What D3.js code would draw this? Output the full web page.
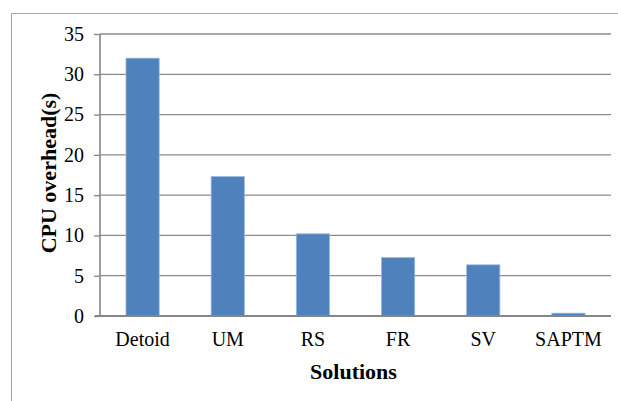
<!DOCTYPE html>
<html>
<head>
<meta charset="utf-8">
<script src="https://cdn.jsdelivr.net/npm/d3@7/dist/d3.min.js"></script>
<style>
  html, body { margin: 0; padding: 0; background: #ffffff; }
  svg { display: block; }
  text { font-family: "Liberation Serif", "Times New Roman", serif; fill: #000; }
</style>
</head>
<body>
<svg id="chart" width="618" height="401"></svg>
<script>
// CPU overhead per solution, in seconds
const solutions = ["Detoid", "UM", "RS", "FR", "SV", "SAPTM"];
const overhead = [32.0, 17.3, 10.2, 7.25, 6.35, 0.35];
const yTicks = [0, 5, 10, 15, 20, 25, 30, 35];

const svg = d3.select("#chart");
const W = 618, H = 401;
const plot = { left: 100, right: 611, top: 34, bottom: 316 };

// chart frame
svg.append("rect")
  .attr("x", 11.5).attr("y", 13.5)
  .attr("width", W + 10).attr("height", H + 10)
  .attr("fill", "none").attr("stroke", "#a6a6a6").attr("stroke-width", 1);

const x = d3.scaleBand()
  .domain(solutions)
  .range([plot.left, plot.right])
  .paddingInner(0.61).paddingOuter(0.305);

const y = d3.scaleLinear().domain([0, 35]).range([plot.bottom, plot.top]);

// horizontal gridlines
svg.append("g")
  .selectAll("line")
  .data(yTicks.filter(d => d > 0))
  .join("line")
  .attr("x1", plot.left).attr("x2", plot.right)
  .attr("y1", d => y(d)).attr("y2", d => y(d))
  .attr("stroke", "#8c8c8c").attr("stroke-width", 1.3);

// bars
svg.append("g")
  .selectAll("rect")
  .data(solutions.map((s, i) => ({ s, v: overhead[i] })))
  .join("rect")
  .attr("x", d => x(d.s))
  .attr("width", x.bandwidth())
  .attr("y", d => y(d.v))
  .attr("height", d => y(0) - y(d.v))
  .attr("fill", "#4f81bd")
  .attr("stroke", "#9db7dc").attr("stroke-width", 0.8);

// y axis
const yAxis = d3.axisLeft(y).tickValues(yTicks).tickSize(6).tickPadding(10).tickFormat(d3.format("d"));
const gy = svg.append("g").attr("transform", `translate(${plot.left},0)`).call(yAxis);
gy.select(".domain").attr("stroke", "#868686").attr("stroke-width", 1.6)
  .attr("d", `M0,${plot.top}V${plot.bottom}`);
gy.selectAll(".tick line").attr("stroke", "#868686").attr("stroke-width", 1.3);
gy.selectAll(".tick text")
  .style("font-family", "'Liberation Serif', serif")
  .style("font-size", "20px").attr("fill", "#000");

// x axis
const xAxis = d3.axisBottom(x).tickSize(0).tickPadding(16);
const gx = svg.append("g").attr("transform", `translate(0,${plot.bottom})`).call(xAxis);
gx.select(".domain").attr("stroke", "#868686").attr("stroke-width", 2)
  .attr("d", `M${plot.left - 5},0H${plot.right}`);
gx.selectAll(".tick text")
  .style("font-family", "'Liberation Serif', serif")
  .style("font-size", "20px").attr("fill", "#000");

// axis titles
svg.append("text")
  .attr("x", (plot.left + plot.right) / 2 - 2)
  .attr("y", 379)
  .attr("text-anchor", "middle")
  .style("font-size", "22px").style("font-weight", "bold")
  .text("Solutions");

svg.append("text")
  .attr("transform", `translate(56,${(plot.top + plot.bottom) / 2 - 2}) rotate(-90)`)
  .attr("text-anchor", "middle")
  .style("font-size", "22px").style("font-weight", "bold")
  .text("CPU overhead(s)");
</script>
</body>
</html>
